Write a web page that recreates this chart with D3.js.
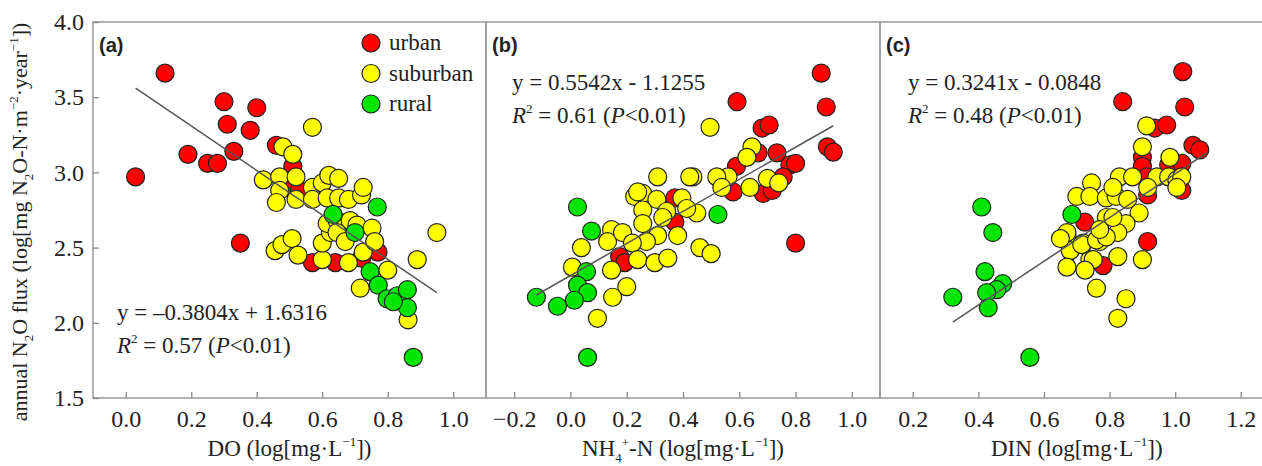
<!DOCTYPE html>
<html>
<head>
<meta charset="utf-8">
<script src="https://cdn.jsdelivr.net/npm/d3@7"></script>
<style>
  body { margin: 0; background: #fff; }
  svg text { font-family: "Liberation Serif", "Times New Roman", serif; fill: #222; }
  .plabel { font-family: "Liberation Sans", Arial, sans-serif !important; font-weight: bold; font-size: 20px; }
</style>
</head>
<body>
<div id="chart"></div>
<script>
// ---- data: [x, y] per site, y = annual N2O flux (log) ----
const aUrban = [[0.12,3.66],[0.30,3.47],[0.40,3.43],[0.31,3.32],[0.38,3.28],[0.19,3.12],[0.33,3.14],[0.25,3.06],[0.28,3.06],[0.03,2.97],[0.46,3.18],[0.51,3.04],[0.50,2.90],[0.53,2.88],[0.35,2.53],[0.57,2.40],[0.64,2.40],[0.72,2.43],[0.77,2.47]];
const aSuburban = [[0.57,3.30],[0.48,3.17],[0.51,3.12],[0.42,2.95],[0.47,2.97],[0.52,2.97],[0.47,2.88],[0.46,2.80],[0.52,2.82],[0.57,2.90],[0.60,2.93],[0.62,2.98],[0.65,2.96],[0.57,2.82],[0.615,2.83],[0.65,2.83],[0.68,2.82],[0.72,2.85],[0.725,2.90],[0.456,2.48],[0.477,2.52],[0.508,2.56],[0.526,2.45],[0.60,2.42],[0.68,2.40],[0.60,2.53],[0.625,2.60],[0.615,2.66],[0.645,2.68],[0.685,2.68],[0.706,2.65],[0.752,2.63],[0.645,2.60],[0.67,2.54],[0.725,2.47],[0.76,2.54],[0.95,2.60],[0.89,2.42],[0.716,2.23],[0.80,2.35],[0.862,2.02]];
const aRural = [[0.768,2.77],[0.633,2.72],[0.70,2.60],[0.746,2.34],[0.771,2.25],[0.798,2.16],[0.829,2.18],[0.86,2.22],[0.86,2.10],[0.878,1.77],[0.817,2.14]];

const bUrban = [[0.891,3.66],[0.909,3.435],[0.592,3.47],[0.681,3.295],[0.706,3.315],[0.913,3.17],[0.934,3.135],[0.667,3.13],[0.734,3.13],[0.78,3.05],[0.80,3.06],[0.59,3.04],[0.756,2.97],[0.578,2.87],[0.685,2.86],[0.717,2.88],[0.80,2.53],[0.371,2.83],[0.371,2.67],[0.175,2.44],[0.193,2.40]];
const bSuburban = [[0.496,3.30],[0.645,3.17],[0.627,3.10],[0.56,2.97],[0.52,2.97],[0.538,2.90],[0.638,2.90],[0.70,2.96],[0.74,2.93],[0.435,2.97],[0.449,2.73],[0.46,2.50],[0.50,2.46],[0.31,2.97],[0.424,2.97],[0.228,2.84],[0.257,2.86],[0.239,2.87],[0.307,2.82],[0.396,2.83],[0.413,2.76],[0.342,2.74],[0.257,2.75],[0.328,2.70],[0.257,2.66],[0.31,2.58],[0.381,2.58],[0.27,2.54],[0.146,2.62],[0.132,2.54],[0.185,2.60],[0.22,2.53],[0.239,2.42],[0.30,2.40],[0.346,2.43],[0.039,2.50],[0.007,2.37],[0.146,2.35],[0.20,2.24],[0.15,2.17],[0.096,2.03]];
const bRural = [[0.025,2.77],[0.075,2.61],[0.057,2.34],[0.025,2.25],[0.061,2.20],[0.014,2.15],[-0.046,2.11],[-0.121,2.17],[0.061,1.77],[0.524,2.72]];

const cUrban = [[1.023,3.67],[0.84,3.47],[1.029,3.435],[0.938,3.295],[0.974,3.315],[1.054,3.18],[1.075,3.15],[0.90,3.10],[0.90,3.04],[0.98,3.05],[1.02,3.06],[1.02,2.88],[0.916,2.85],[0.724,2.67],[0.916,2.54],[0.913,2.97],[0.78,2.38]];
const cSuburban = [[0.913,3.31],[0.90,3.17],[0.984,3.10],[0.83,2.97],[0.87,2.97],[0.944,2.97],[0.98,2.97],[1.005,2.95],[1.02,2.97],[0.916,2.90],[1.005,2.90],[0.745,2.93],[0.70,2.84],[0.74,2.84],[0.79,2.83],[0.82,2.84],[0.81,2.90],[0.855,2.82],[0.89,2.73],[0.79,2.70],[0.85,2.66],[0.67,2.58],[0.72,2.53],[0.77,2.54],[0.825,2.60],[0.68,2.48],[0.825,2.44],[0.74,2.42],[0.67,2.37],[0.90,2.42],[0.67,2.60],[0.65,2.56],[0.715,2.52],[0.76,2.55],[0.79,2.57],[0.75,2.42],[0.725,2.35],[0.76,2.23],[0.77,2.62],[0.81,2.70],[0.85,2.16],[0.825,2.03]];
const cRural = [[0.41,2.77],[0.444,2.60],[0.42,2.34],[0.474,2.26],[0.456,2.22],[0.425,2.20],[0.43,2.10],[0.322,2.17],[0.685,2.72],[0.557,1.77]];

// fitted lines, drawn end points
const fitA = [[0.03,3.56],[0.95,2.20]];
const fitB = [[-0.121,2.185],[0.934,3.31]];
const fitC = [[0.322,2.005],[1.096,3.13]];

const groups = ['urban', 'suburban', 'rural'];
const groupColors = ['#ff0000', '#ffff00', '#00e600'];
const yTicks = [1.5, 2.0, 2.5, 3.0, 3.5, 4.0];

const width = 1262, height = 466;
const plotTop = 22, plotBottom = 398;

const svg = d3.select('#chart').append('svg')
  .attr('width', width)
  .attr('height', height);

const y = d3.scaleLinear().domain([1.5, 4.0]).range([plotBottom, plotTop]);

const panels = [
  { label: '(a)', range: [93, 486], domain: [-0.1, 1.1], ticks: [0, 0.2, 0.4, 0.6, 0.8, 1.0],
    sets: [aUrban, aSuburban, aRural], fit: fitA,
    eq: 'y = \u20120.3804x + 1.6316', r2: '0.57', eqPos: [117, 320], title: 'DO' },
  { label: '(b)', range: [486, 880], domain: [-0.3, 1.1], ticks: [-0.2, 0, 0.2, 0.4, 0.6, 0.8, 1.0],
    sets: [bUrban, bSuburban, bRural], fit: fitB,
    eq: 'y = 0.5542x - 1.1255', r2: '0.61', eqPos: [512, 90], title: 'NH4' },
  { label: '(c)', range: [880, 1273.6], domain: [0.1, 1.3], ticks: [0.2, 0.4, 0.6, 0.8, 1.0, 1.2],
    sets: [cUrban, cSuburban, cRural], fit: fitC,
    eq: 'y = 0.3241x - 0.0848', r2: '0.48', eqPos: [908, 90], title: 'DIN' }
];

const fmt = d3.format('.1f');

// d3 axes put sans-serif 10px on the group, switch to the serif look
function styleAxis(sel) {
  sel.attr('font-family', '"Liberation Serif", "Times New Roman", serif').attr('font-size', 24);
  sel.select('.domain').remove();
  sel.selectAll('.tick line').attr('stroke', '#888').attr('stroke-width', 1.3);
  sel.selectAll('.tick text').style('font-size', '24px').attr('fill', '#222');
}

panels.forEach(function(p, i) {
  const x = d3.scaleLinear().domain(p.domain).range(p.range);
  const g = svg.append('g');

  // x axis, ticks inward
  const xAxis = d3.axisBottom(x).tickValues(p.ticks).tickFormat(fmt)
    .tickSizeInner(-6).tickSizeOuter(0).tickPadding(12);
  g.append('g').attr('transform', 'translate(0,' + plotBottom + ')').call(xAxis).call(styleAxis);

  // points: urban, suburban, rural
  p.sets.forEach(function(set, k) {
    g.append('g').selectAll('circle')
      .data(set)
      .join('circle')
      .attr('cx', d => x(d[0]))
      .attr('cy', d => y(d[1]))
      .attr('r', 9)
      .attr('fill', groupColors[k])
      .attr('stroke', '#222')
      .attr('stroke-width', 1.2);
  });

  // regression line
  g.append('path')
    .datum(p.fit)
    .attr('d', d3.line().x(d => x(d[0])).y(d => y(d[1])))
    .attr('stroke', '#555')
    .attr('stroke-width', 1.5)
    .attr('fill', 'none');

  // frame
  g.append('rect')
    .attr('x', p.range[0]).attr('y', plotTop)
    .attr('width', p.range[1] - p.range[0]).attr('height', plotBottom - plotTop)
    .attr('fill', 'none').attr('stroke', '#999').attr('stroke-width', 1.5);

  // panel label
  g.append('text').attr('class', 'plabel')
    .attr('x', p.range[0] + 6).attr('y', plotTop + 30)
    .text(p.label);

  // equation text
  g.append('text')
    .attr('x', p.eqPos[0]).attr('y', p.eqPos[1])
    .style('font-size', '23px')
    .text(p.eq);
  const r = g.append('text')
    .attr('x', p.eqPos[0]).attr('y', p.eqPos[1] + 33)
    .style('font-size', '23px');
  r.append('tspan').style('font-style', 'italic').text('R');
  r.append('tspan').attr('dy', -10).style('font-size', '13px').text('2');
  r.append('tspan').attr('dy', 10).text(' = ' + p.r2 + ' (');
  r.append('tspan').style('font-style', 'italic').text('P');
  r.append('tspan').text('<0.01)');

  // x axis title
  const t = g.append('text')
    .attr('x', (x(p.ticks[0]) + x(p.ticks[p.ticks.length - 1])) / 2)
    .attr('y', 456)
    .attr('text-anchor', 'middle')
    .style('font-size', '23px');
  if (p.title === 'NH4') {
    t.append('tspan').text('NH');
    t.append('tspan').attr('dy', 6).style('font-size', '13px').text('4');
    t.append('tspan').attr('dy', -15).style('font-size', '13px').text('+');
    t.append('tspan').attr('dy', 9).text('-N (log[mg\u00b7L');
  } else {
    t.append('tspan').text(p.title + ' (log[mg\u00b7L');
  }
  t.append('tspan').attr('dy', -10).style('font-size', '13px').text('\u22121');
  t.append('tspan').attr('dy', 10).text('])');
});

// y axis on panel (a)
const yAxis = d3.axisLeft(y).tickValues(yTicks).tickFormat(fmt)
  .tickSizeInner(-6).tickSizeOuter(0).tickPadding(9);
svg.append('g').attr('transform', 'translate(93,0)').call(yAxis).call(styleAxis);

// y axis title
const yt = svg.append('text')
  .attr('transform', 'translate(27,' + ((plotTop + plotBottom) / 2 + 12) + ') rotate(-90)')
  .attr('text-anchor', 'middle')
  .style('font-size', '22px');
yt.append('tspan').text('annual N');
yt.append('tspan').attr('dy', 6).style('font-size', '13px').text('2');
yt.append('tspan').attr('dy', -6).text('O flux (log[mg N');
yt.append('tspan').attr('dy', 6).style('font-size', '13px').text('2');
yt.append('tspan').attr('dy', -6).text('O-N\u00b7m');
yt.append('tspan').attr('dy', -9).style('font-size', '13px').text('\u22122');
yt.append('tspan').attr('dy', 9).text('\u00b7year');
yt.append('tspan').attr('dy', -9).style('font-size', '13px').text('\u22121');
yt.append('tspan').attr('dy', 9).text('])');

// legend in panel (a)
const legend = svg.append('g');
groups.forEach(function(name, k) {
  const ly = 43 + k * 30.5;
  legend.append('circle')
    .attr('cx', 371).attr('cy', ly).attr('r', 9)
    .attr('fill', groupColors[k]).attr('stroke', '#222').attr('stroke-width', 1.2);
  legend.append('text')
    .attr('x', 389).attr('y', ly + 7)
    .style('font-size', '23px')
    .text(name);
});
</script>
</body>
</html>
